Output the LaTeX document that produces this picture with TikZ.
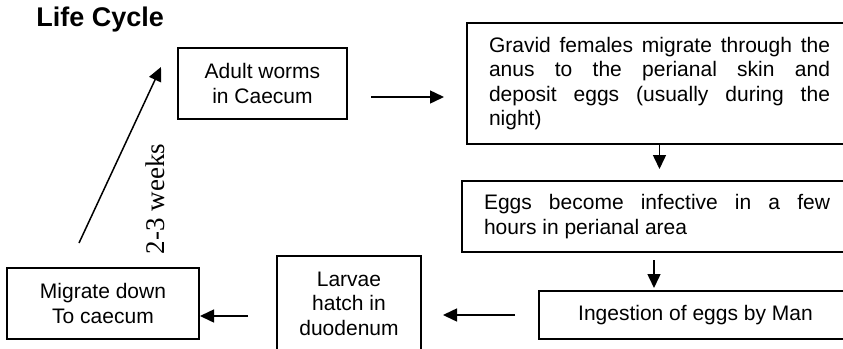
\documentclass[tikz,border=0pt]{standalone}
\usepackage{fontspec}
\setmainfont{Liberation Sans}
\newfontfamily\weeksfont{Liberation Serif}
\usetikzlibrary{arrows.meta, positioning}

\begin{document}
\begin{tikzpicture}[>={Triangle[length=7pt, width=6.5pt]},
  box/.style={rectangle, draw, line width=1pt, align=center, inner sep=0pt, font=\fontsize{10.5}{12.2}\selectfont},
  textbox/.style={box, align=justify, inner xsep=11pt},
  arr/.style={->, line width=0.75pt},
  weeks/.style={rotate=90, inner sep=0pt, font=\weeksfont\fontsize{13.5}{15}\selectfont}]

\useasboundingbox (0,0) rectangle (421.5pt,-174.5pt);

\node[anchor=base west, inner sep=0pt, font=\bfseries\fontsize{13.5}{15}\selectfont] (Title) at (18pt,-13pt) {Life Cycle};

\node[box, minimum width=84.5pt, minimum height=35.5pt] (Adult) at (131.25pt,-41.75pt) {Adult worms\\in Caecum};
\node[textbox, text width=170.5pt, minimum height=60.5pt, right=59pt of Adult] (Gravid) {Gravid females migrate through the\linebreak anus to the perianal skin and\linebreak deposit eggs (usually during the\linebreak night)};
\node[textbox, text width=173pt, minimum height=35.5pt, below=17.5pt of Gravid.south east, anchor=north east] (Eggs) {Eggs become infective in a few\linebreak hours in perianal area};
\node[box, minimum width=156.5pt, minimum height=24pt, below=18.5pt of Eggs.south east, anchor=north east] (Ingestion) {Ingestion of eggs by Man};
\node[box, minimum width=72pt, minimum height=47.5pt, left=58pt of Ingestion, yshift=5.75pt] (Larvae) {Larvae\\hatch in\\duodenum};
\node[box, minimum width=96pt, minimum height=35.5pt, left=38pt of Larvae] (Migrate) {Migrate down\\To caecum};

\node[weeks] (Weeks) at ([xshift=-22.5pt, yshift=34pt]Migrate.north east) {2-3 weeks};

\draw[arr] ([xshift=11.5pt, yshift=-6.75pt]Adult.east) -- ([xshift=-11pt, yshift=-6.75pt]Gravid.west);
\draw[arr, shorten >=5.5pt] (Gravid.south) -- (Gravid.south |- Eggs.north);
\draw[arr, shorten <=3.5pt, shorten >=1pt] ([xshift=-1.5pt]Eggs.south) -- ([xshift=-1.5pt]Eggs.south |- Ingestion.north);
\draw[arr, shorten <=11.5pt, shorten >=10.5pt] (Ingestion.west) -- (Ingestion.west -| Larvae.east);
\draw[arr, shorten <=14pt] ([yshift=-6.25pt]Larvae.west) -- ([yshift=-6.25pt]Migrate.east);
\draw[arr] ([xshift=-12pt, yshift=12pt]Migrate.north) -- ([xshift=-8pt, yshift=8.25pt]Adult.west);

\end{tikzpicture}
\end{document}
